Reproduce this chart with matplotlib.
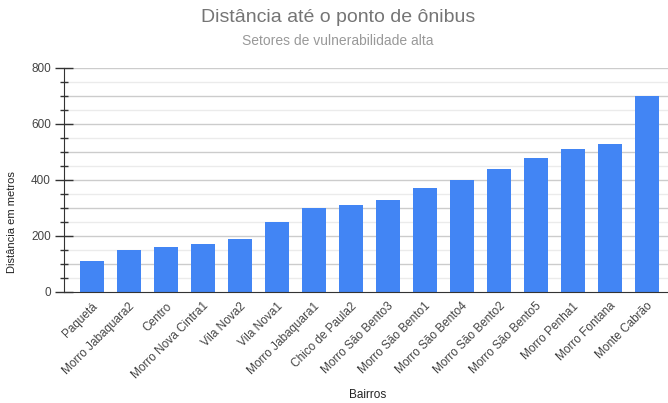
import numpy as np
import matplotlib.pyplot as plt
from matplotlib.ticker import MultipleLocator
from matplotlib.transforms import ScaledTranslation

plt.rcParams['font.family'] = ['Liberation Sans', 'DejaVu Sans']

bairros = ['Paquetá', 'Morro Jabaquara2', 'Centro', 'Morro Nova Cintra1', 'Vila Nova2',
           'Vila Nova1', 'Morro Jabaquara1', 'Chico de Paula2', 'Morro São Bento3',
           'Morro São Bento1', 'Morro São Bento4', 'Morro São Bento2', 'Morro São Bento5',
           'Morro Penha1', 'Morro Fontana', 'Monte Cabrão']
distancias = [110, 150, 160, 170, 190, 250, 300, 310, 330, 370, 400, 440, 480, 510, 530, 700]

fig = plt.figure(figsize=(6.68, 4.03), dpi=100)
ax = fig.add_axes([64 / 668, (403 - 292) / 403, 604 / 668, 224 / 403])

x = np.arange(len(bairros))
ax.bar(x, distancias, width=0.647, color='#4285f4', zorder=3)

ax.set_xlim(-0.755, len(bairros) - 1 + 0.567)
ax.set_ylim(0, 800)

# grid: strong lines every 100, faint lines in between
for v in range(50, 801, 50):
    c = '#cccccc' if v % 100 == 0 else '#ebebeb'
    ax.axhline(v, color=c, lw=1, zorder=1)

ax.yaxis.set_major_locator(MultipleLocator(200))
ax.yaxis.set_minor_locator(MultipleLocator(50))
ax.tick_params(axis='y', which='major', direction='inout', length=13, width=1,
               color='#333333', labelsize=8.5, labelcolor='#444444', pad=3)
ax.tick_params(axis='y', which='minor', direction='inout', length=6, width=1, color='#333333')

ax.set_xticks(x)
ax.set_xticklabels(bairros, rotation=45, ha='right', va='center', rotation_mode='anchor')
ax.tick_params(axis='x', length=0, labelsize=8.5, labelcolor='#444444', pad=9)
# nudge the slanted labels a little to the right of each bar
shift = ScaledTranslation(4 / 100, 0, fig.dpi_scale_trans)
for lbl in ax.get_xticklabels():
    lbl.set_transform(lbl.get_transform() + shift)

for s in ['top', 'right']:
    ax.spines[s].set_visible(False)
ax.spines['left'].set_color('#333333')
ax.spines['bottom'].set_color('#333333')
ax.spines['left'].set_zorder(4)
ax.spines['bottom'].set_zorder(4)

fig.text(12 / 668, 1 - 222 / 403, 'Distância em metros', rotation=90, ha='center', va='center',
         fontsize=8, color='#222222')
fig.text(368 / 668, 1 - 395 / 403, 'Bairros', ha='center', va='center', fontsize=8.5, color='#222222')

fig.text(338 / 668, 1 - 17 / 403, 'Distância até o ponto de ônibus', ha='center', va='center',
         fontsize=14, color='#757575')
fig.text(338 / 668, 1 - 41 / 403, 'Setores de vulnerabilidade alta', ha='center', va='center',
         fontsize=10, color='#999999')

fig.savefig('out.png', dpi=100)
